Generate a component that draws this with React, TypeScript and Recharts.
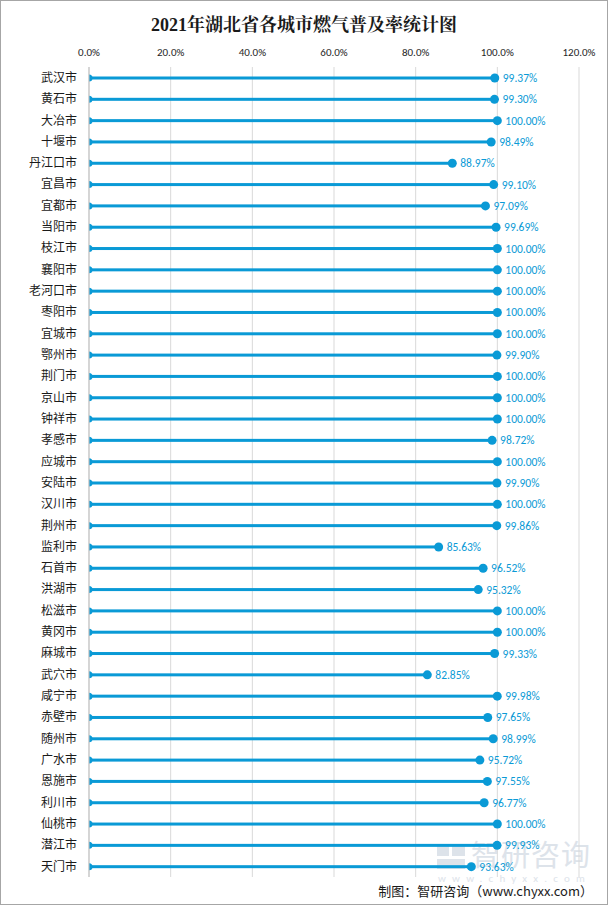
import React from "react";
import { BarChart, Bar, XAxis, YAxis, CartesianGrid } from "recharts";

const cities = [
  "武汉市", "黄石市", "大冶市", "十堰市", "丹江口市", "宜昌市", "宜都市", "当阳市",
  "枝江市", "襄阳市", "老河口市", "枣阳市", "宜城市", "鄂州市", "荆门市", "京山市",
  "钟祥市", "孝感市", "应城市", "安陆市", "汉川市", "荆州市", "监利市", "石首市",
  "洪湖市", "松滋市", "黄冈市", "麻城市", "武穴市", "咸宁市", "赤壁市", "随州市",
  "广水市", "恩施市", "利川市", "仙桃市", "潜江市", "天门市",
];

// 燃气普及率 (%)
const rates = [
  99.37, 99.3, 100, 98.49, 88.97, 99.1, 97.09, 99.69,
  100, 100, 100, 100, 100, 99.9, 100, 100,
  100, 98.72, 100, 99.9, 100, 99.86, 85.63, 96.52,
  95.32, 100, 100, 99.33, 82.85, 99.98, 97.65, 98.99,
  95.72, 97.55, 96.77, 100, 99.93, 93.63,
];

const xTicks = [0, 0.2, 0.4, 0.6, 0.8, 1.0, 1.2];

const data = cities.map((name, i) => ({ name, value: rates[i] / 100 }));

const BLUE = "#0a9ad6";
const NUM_FONT = "Calibri, Carlito, 'Open Sans', 'Noto Sans', sans-serif";
const CJK_FONT = "'Noto Sans CJK SC', sans-serif";
const MARK = "#dde3ea";

const Lollipop = (props: any) => {
  const { x, y, width, height } = props;
  const cy = y + height / 2;
  return (
    <g>
      <rect x={x} y={cy - 1.5} width={Math.max(width, 0)} height={3} fill={BLUE} />
      <path d={`M${x} ${cy - 3.5} A3.5 3.5 0 0 1 ${x} ${cy + 3.5} Z`} fill={BLUE} />
      <circle cx={x + width} cy={cy} r={4.5} fill={BLUE} />
    </g>
  );
};

const ValueLabel = (props: any) => {
  const { x, y, width, height, value } = props;
  return (
    <text
      x={x + width + 8}
      y={y + height / 2}
      dominantBaseline="central"
      fill={BLUE}
      fontSize={11.5}
      fontFamily={NUM_FONT}
    >
      {(value * 100).toFixed(2) + "%"}
    </text>
  );
};

export default function App() {
  return (
    <div
      style={{
        position: "absolute",
        left: 0,
        top: 0,
        width: 608,
        height: 905,
        boxSizing: "border-box",
        border: "1px solid #a6a6a6",
        background: "#fff",
      }}
    >
      <div
        style={{
          position: "absolute",
          left: 0,
          width: 606,
          top: 9,
          textAlign: "center",
          fontFamily: "'Liberation Serif', 'Noto Serif CJK SC', serif",
          fontWeight: "bold",
          fontSize: 18,
          color: "#1a1a1a",
        }}
      >
        2021年湖北省各城市燃气普及率统计图
      </div>
      {/* watermark */}
      <div style={{ position: "absolute", left: 436, top: 845, width: 12, height: 10, background: MARK }} />
      <div style={{ position: "absolute", left: 451, top: 845, width: 13, height: 10, background: MARK }} />
      <div style={{ position: "absolute", left: 436, top: 858, width: 28, height: 10, background: MARK }} />
      <div
        style={{
          position: "absolute",
          left: 470,
          top: 832,
          fontFamily: CJK_FONT,
          fontSize: 29,
          color: MARK,
          letterSpacing: 1,
          lineHeight: "40px",
        }}
      >
        智研咨询
      </div>
      <div
        style={{
          position: "absolute",
          left: 437,
          top: 871,
          fontFamily: NUM_FONT,
          fontSize: 11,
          color: MARK,
          letterSpacing: 6.2,
          lineHeight: "14px",
        }}
      >
        www.chyxx.com
      </div>
      <BarChart
        width={606}
        height={903}
        data={data}
        layout="vertical"
        margin={{ top: 40, right: 28, bottom: 27, left: 0 }}
        barCategoryGap={0}
        style={{ position: "absolute", left: 0, top: 0 }}
      >
        <CartesianGrid horizontal={false} stroke="#d9d9d9" />
        <XAxis
          type="number"
          orientation="top"
          domain={[0, 1.2]}
          ticks={xTicks}
          height={26}
          axisLine={false}
          tickLine={false}
          tickMargin={5}
          tickFormatter={(v: number) => (v * 100).toFixed(1) + "%"}
          tick={{ fill: "#262626", fontSize: 11, fontFamily: NUM_FONT }}
        />
        <YAxis
          type="category"
          dataKey="name"
          width={88}
          axisLine={{ stroke: "#bfbfbf" }}
          tickLine={false}
          tickMargin={6}
          interval={0}
          tick={{ fill: "#1a1a1a", fontSize: 12, fontFamily: CJK_FONT }}
        />
        <Bar
          dataKey="value"
          barSize={10}
          isAnimationActive={false}
          shape={Lollipop}
          label={ValueLabel}
        />
      </BarChart>
      <div
        style={{
          position: "absolute",
          right: 14,
          top: 880,
          fontFamily: "'Noto Sans CJK SC', 'DejaVu Sans Mono', monospace",
          fontSize: 13,
          color: "#1a1a1a",
        }}
      >
        制图：智研咨询（www.chyxx.com）
      </div>
    </div>
  );
}
